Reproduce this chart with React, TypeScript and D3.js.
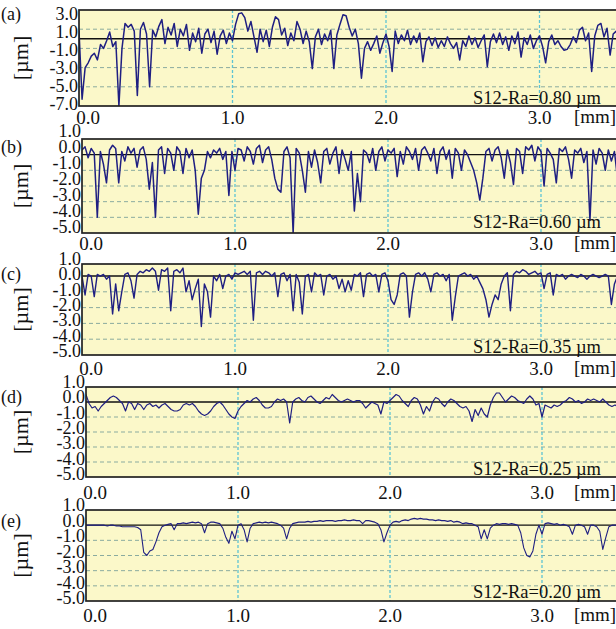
import React from 'react';
import * as d3 from 'd3';

// ---------- data ----------
const X_STEP = 0.02; // mm between samples
const panelLabels = ['(a)', '(b)', '(c)', '(d)', '(e)'];
const raLabels = ['S12-Ra=0.80 µm', 'S12-Ra=0.60 µm', 'S12-Ra=0.35 µm', 'S12-Ra=0.25 µm', 'S12-Ra=0.20 µm'];
const xTickValues = [0, 1, 2, 3];
const xTickLabels = ['0.0', '1.0', '2.0', '3.0'];
const yTicksA = [3, 1, -1, -3, -5, -7];
const yTicksOther = [1, 0, -1, -2, -3, -4, -5];

const profileA = [
  0.9, -6.3, -3.0, -2.5, -1.8, -1.5, -2.2, -0.6, -1.0, -0.2,
  0.7, -0.8, -0.3, -7.0, -1.0, 1.6, 1.2, 1.5, 0.8, -5.9,
  1.0, 1.7, 0.5, -5.0, 0.9, 0.2, 1.3, 2.0, -0.5, 1.2,
  0.4, 1.6, -0.8, 1.0, 0.3, 1.5, -1.2, 0.6, -0.3, 1.1,
  -1.5, 0.5, 1.0, -0.4, 0.8, -1.6, 0.3, 0.9, -0.5, 0.6,
  -0.2, 1.5, 2.6, 2.7, 2.2, 0.8, 1.8, 0.2, -1.4, 1.0,
  -0.3, 0.9, -0.8, 1.2, 2.3, 2.0, 0.4, 1.1, -0.7, 0.6,
  -0.2, 1.8, 1.0, -0.5, 0.8, -0.3, -3.1, 0.2, 1.0, -0.6,
  0.5, -0.2, 0.9, -3.1, 0.4, 1.5, 2.5, 2.4, 1.2, 0.3,
  1.0, -0.5, -4.1, -1.0, -0.3, -1.2, -0.5, 0.3, -1.5, -0.4,
  0.5, -0.8, -3.4, 0.8, -0.5, 0.4, -0.2, 0.9, -0.6, 0.3,
  -0.4, 0.6, -2.4, -0.3, 0.2, -0.7, 0.1, -0.9, -0.2, -0.8,
  0.2, -0.5, -1.0, -0.4, -2.2, -0.2, -0.8, 0.3, -0.6, 0.1,
  -0.9, -0.2, 0.4, -2.9, -0.3, 0.5, -0.4, 0.6, -0.6, 0.2,
  -1.2, 0.3, -0.5, 0.7, -1.9, 0.1, -0.6, 0.4, -1.0, -0.2,
  0.3, -0.8, -2.5, -0.3, 0.4, -0.6, -0.2, -0.8, -1.2, -1.1,
  -0.6, 0.2, -0.4, 0.9, 1.2, -0.2, 0.6, -3.4, 0.3, 1.4,
  1.6, 0.2, 1.1, -1.7, 0.5, 0.8,
];

const profileB = [
  0.3, 0.5, -0.2, 0.4, 0.1, -4.0, 0.2, -0.6, -1.8, 0.3,
  0.6, 0.4, -1.8, 0.2, -0.4, 0.5, 0.1, 0.4, -0.8, 0.3,
  0.5, -0.3, -2.2, -0.5, -4.0, 0.3, 0.5, -1.2, 0.4, 0.1,
  -1.0, 0.5, 0.2, -1.2, 0.4, -0.2, 0.3, -1.0, -3.8, -1.5,
  -1.0, 0.2, -0.2, 0.3, 0.1, 0.4, -0.3, 0.2, -2.6, 0.2,
  -1.0, 0.4, 0.3, -0.4, 0.5, 0.2, -0.6, 0.4, 0.6, -0.5,
  0.3, 0.5, -0.3, -1.5, -2.2, -2.4, 0.2, 0.5, -0.2, -5.0,
  0.4, 0.1, -1.0, -2.4, 0.2, -0.8, 0.3, -0.5, -1.8, 0.2,
  0.4, -0.6, 0.1, 0.5, -1.2, 0.3, -0.3, -1.0, 0.2, -3.6,
  -1.2, -3.0, 0.3, 0.1, -0.5, 0.4, -1.0, 0.2, 0.5, -0.4,
  0.3, 0.1, 0.4, -1.4, 0.2, -0.6, 0.5, 0.2, -0.3, 0.4,
  -1.0, 0.3, 0.5, 0.1, -0.4, 0.4, -1.2, 0.2, 0.5, -0.3,
  0.3, -1.5, 0.4, 0.1, -1.0, 0.3, 0.0, -0.5, -1.0, -1.8,
  -2.9, -1.5, 0.2, 0.4, -0.4, 0.3, 0.5, -0.2, -1.5, 0.3,
  -0.5, -1.9, 0.4, 0.2, -1.2, 0.5, 0.3, 0.6, -0.4, 0.5,
  0.2, -2.0, 0.4, 0.1, -0.3, -1.8, 0.4, 0.2, 0.5, -0.3,
  -1.5, 0.3, 0.1, 0.4, -0.5, 0.2, -4.2, 0.3, -0.6, 0.4,
  0.1, -1.0, 0.3, -0.4, 0.2, -1.5,
];

const profileC = [
  0.0, -1.2, 0.1, 0.0, -1.3, 0.1, 0.0, 0.1, -0.2, 0.0,
  -2.4, -0.5, -2.2, -1.0, 0.1, 0.2, -0.3, -1.4, 0.1, 0.3,
  0.2, 0.4, 0.3, 0.5, 0.3, -0.9, 0.4, 0.3, 0.5, -2.2,
  0.3, 0.4, 0.2, 0.5, -1.0, -0.3, -1.5, -0.8, -0.2, -3.2,
  -0.5, -1.0, -2.6, 0.0, -0.3, 0.1, -0.8, 0.0, 0.1, -0.2,
  0.2, 0.1, 0.2, 0.3, 0.1, 0.3, -2.8, 0.2, 0.3, 0.1,
  0.3, 0.2, 0.0, 0.2, -1.3, 0.1, 0.2, -0.3, 0.1, -2.2,
  0.1, -0.4, -2.4, 0.0, 0.1, -1.0, 0.2, 0.0, 0.1, -1.2,
  0.0, 0.1, -0.2, 0.0, -0.8, -0.2, -1.0, -0.3, -0.9, 0.1,
  0.0, 0.2, -1.3, 0.1, 0.2, 0.0, 0.1, -1.0, 0.1, 0.2,
  -0.3, -1.5, -1.8, -1.2, 0.1, 0.2, 0.0, -2.6, -1.0, 0.1,
  0.2, 0.0, 0.2, -0.2, -1.0, 0.1, 0.2, 0.0, 0.1, -0.3,
  0.1, -2.8, -1.3, 0.0, 0.1, 0.2, 0.0, 0.1, -0.2, 0.0,
  -0.4, -0.8, -1.5, -2.6, -1.8, -1.2, -1.5, -0.5, 0.0, 0.2,
  -2.2, 0.1, 0.3, 0.2, 0.4, 0.3, 0.1, 0.2, 0.3, 0.1,
  0.2, -0.8, 0.1, 0.2, -1.2, 0.1, 0.0, 0.1, -0.2, 0.0,
  0.1, 0.0, -0.1, 0.1, 0.0, -0.2, 0.0, 0.1, 0.0, -0.1,
  0.0, 0.1, 0.0, -1.8, -0.5, 0.0,
];

const profileD = [
  0.5, -0.1, -0.4, -0.3, -0.6, -0.3, -0.1, 0.1, 0.3, 0.4,
  0.3, 0.1, -0.1, -0.6, 0.0, -0.1, -0.5, -0.1, -0.2, -0.5,
  -0.2, -0.1, -0.3, -0.2, -0.4, -0.2, -0.1, -0.3, -0.5, -0.6,
  -0.6, -0.5, -0.2, -0.1, -0.2, -0.1, -0.3, -0.6, -0.8, -0.9,
  -0.8, -0.6, -0.3, -0.1, 0.0, -0.2, -0.5, -0.8, -1.0, -1.1,
  -0.6, -0.3, -0.1, 0.1, 0.0, 0.2, 0.3, 0.1, -0.2, -0.4,
  -0.4, -0.3, 0.0, 0.2, 0.1, 0.2, 0.0, -1.4, 0.0, 0.2,
  0.3, 0.1, 0.0, 0.3, 0.4, 0.2, 0.0, -0.1, 0.1, 0.3,
  0.2, 0.5, 0.3, 0.1, 0.0, 0.1, 0.2, 0.1, 0.0, 0.1,
  0.1, -0.1, -0.4, -0.2, 0.0, -0.1, -0.2, -0.8, 0.0, -0.1,
  0.1, 0.3, 0.5, 0.4, 0.1, -0.1, -0.3, 0.1, 0.3, 0.2,
  -0.2, -0.8, -0.3, -0.6, 0.0, 0.3, 0.2, -0.1, -0.3, 0.0,
  0.2, 0.1, -0.1, -0.3, -0.4, -0.3, -0.6, -1.3, -0.5, -0.9,
  -0.4, -0.8, -1.0, -0.2, 0.3, 0.6, 0.6, 0.3, 0.0, 0.2,
  0.4, 0.3, 0.1, 0.0, -0.1, 0.2, 0.4, 0.2, -0.2, -0.1,
  -1.0, -0.2, -0.3, -0.4, -0.2, -0.3, -0.2, 0.0, 0.1, 0.3,
  0.2, 0.0, 0.1, -0.1, 0.0, 0.2, 0.1, 0.2, 0.1, 0.0,
  0.2, 0.0, -0.2, -0.3, -0.2, -0.3,
];

const profileE = [
  0.0, 0.0, 0.0, 0.0, 0.0, 0.0, 0.0, -0.05, 0.0, 0.0,
  -0.05, -0.05, -0.1, -0.1, -0.1, -0.1, -0.1, -0.15, -0.3, -1.8,
  -2.0, -1.7, -1.6, -1.1, -0.5, -0.1, 0.0, 0.05, 0.1, -0.3,
  0.1, 0.1, 0.15, 0.1, 0.15, 0.2, 0.15, 0.2, 0.1, -0.5,
  0.1, 0.2, 0.2, 0.15, 0.1, -0.2, -0.8, -1.2, -0.4, -0.9,
  0.0, 0.1, -0.3, -1.1, -0.2, 0.1, 0.15, 0.2, 0.15, 0.2,
  0.15, 0.2, 0.15, 0.1, 0.0, -0.2, -0.9, -0.2, 0.1, 0.15,
  0.2, 0.2, 0.2, 0.25, 0.2, 0.25, 0.25, 0.3, 0.25, 0.3,
  0.3, 0.3, 0.25, 0.3, 0.3, 0.35, 0.3, 0.3, 0.35, 0.3,
  0.3, 0.1, 0.3, 0.3, 0.25, 0.2, 0.1, -0.3, -1.1, -0.5,
  0.0, 0.2, 0.25, 0.2, 0.3, 0.35, 0.3, 0.4, 0.45, 0.4,
  0.45, 0.4, 0.4, 0.35, 0.35, 0.3, 0.35, 0.3, 0.3, 0.25,
  0.3, 0.2, 0.25, 0.2, 0.1, 0.15, 0.1, 0.1, 0.0, -0.1,
  -0.9, -0.3, -0.9, -0.2, 0.0, 0.1, 0.05, 0.1, 0.1, 0.05,
  0.1, 0.05, 0.0, -0.5, -1.5, -2.0, -2.1, -1.7, -0.6, 0.0,
  -0.6, 0.1, 0.15, 0.1, 0.05, 0.1, 0.0, 0.05, 0.0, -0.1,
  -0.6, 0.0, 0.05, 0.0, -0.1, -0.6, 0.0, 0.0, -0.1, -0.4,
  -1.6, -0.8, -0.1, 0.0, 0.0, 0.0,
];

const profiles = [profileA, profileB, profileC, profileD, profileE];

// ---------- layout ----------
const W = 616;
const H = 629;
const panels = [
  { left: 79, top: 10, bottom: 106, yMin: -7, yMax: 3, pxPerMm: 153.5, ticks: yTicksA, labTop: 14, labBot: 104, xLabY: 117, raY: 98, lw: 1.5 },
  { left: 82, top: 139, bottom: 233, yMin: -5, yMax: 1, pxPerMm: 153, ticks: yTicksOther, labTop: 131, labBot: 227, xLabY: 243, raY: 222, lw: 1.5 },
  { left: 82, top: 264, bottom: 355, yMin: -5, yMax: 0.76, pxPerMm: 153, ticks: yTicksOther, labTop: 259, labBot: 351, xLabY: 368, raY: 347, lw: 1.4 },
  { left: 86, top: 387, bottom: 477, yMin: -5, yMax: 1, pxPerMm: 152, ticks: yTicksOther, labTop: 382, labBot: 474, xLabY: 492, raY: 469, lw: 1.2 },
  { left: 86, top: 510, bottom: 601, yMin: -5, yMax: 1, pxPerMm: 152, ticks: yTicksOther, labTop: 505, labBot: 598, xLabY: 615, raY: 592, lw: 1.1 },
];

const txt: React.CSSProperties = { fontFamily: '"Liberation Serif"' };

function Panel({ idx }: { idx: number }) {
  const p = panels[idx];
  const data = profiles[idx];
  const x = d3.scaleLinear().domain([0, 1]).range([p.left, p.left + p.pxPerMm]);
  const y = d3.scaleLinear().domain([p.yMin, p.yMax]).range([p.bottom, p.top]);
  const first = p.ticks[0];
  const last = p.ticks[p.ticks.length - 1];
  const labY = d3.scaleLinear().domain([last, first]).range([p.labBot, p.labTop]);
  const line = d3
    .line<number>()
    .x((_, i) => x(i * X_STEP))
    .y((d) => y(d));
  const right = W + 4;
  const clipId = `clip-${idx}`;
  const gridTicks = p.ticks.filter((t) => t !== 0 && t > p.yMin && t < p.yMax);
  return (
    <g>
      <defs>
        <clipPath id={clipId}>
          <rect x={p.left} y={p.top} width={right - p.left} height={p.bottom - p.top} />
        </clipPath>
      </defs>
      <rect x={p.left} y={p.top} width={right - p.left} height={p.bottom - p.top} fill="#fbf8c9" />
      {gridTicks.map((t) => (
        <line key={t} x1={p.left} x2={right} y1={y(t)} y2={y(t)} stroke="#8aab9f" strokeWidth={1} strokeDasharray="4,3" />
      ))}
      {xTickValues.slice(1).map((t) => (
        <line key={t} x1={x(t)} x2={x(t)} y1={p.top} y2={p.bottom} stroke="#5cc3d4" strokeWidth={1.3} strokeDasharray="3,2" />
      ))}
      <line x1={p.left} x2={right} y1={y(0)} y2={y(0)} stroke="#111" strokeWidth={1.4} />
      <path d={line(data) || ''} fill="none" stroke="#1f1f82" strokeWidth={p.lw} strokeLinejoin="round" clipPath={`url(#${clipId})`} />
      <rect x={p.left} y={p.top} width={right - p.left} height={p.bottom - p.top} fill="none" stroke="#222" strokeWidth={1.7} />
      {p.ticks.map((t) => (
        <text key={t} x={p.left - 1} y={labY(t)} textAnchor="end" dominantBaseline="central" style={txt} fontSize={18} fill="#111">
          {t.toFixed(1)}
        </text>
      ))}
      <text x={1} y={idx === 0 ? labY(first) : labY(p.ticks[1])} dominantBaseline="central" style={txt} fontSize={18} fill="#111">
        {panelLabels[idx]}
      </text>
      <text
        transform={`translate(${20},${(p.top + p.bottom) / 2}) rotate(-90)`}
        textAnchor="middle"
        dominantBaseline="central"
        style={txt}
        fontSize={22}
        fill="#111"
      >
        [µm]
      </text>
      {xTickValues.map((t, i) => (
        <text key={t} x={x(t) + (i === 0 ? 9 : 0)} y={p.xLabY} textAnchor="middle" dominantBaseline="central" style={txt} fontSize={19} fill="#111">
          {xTickLabels[i]}
        </text>
      ))}
      <text x={595} y={p.xLabY - 1} textAnchor="middle" dominantBaseline="central" style={txt} fontSize={19} fill="#111">
        [mm]
      </text>
      <text x={473} y={p.raY} dominantBaseline="central" style={txt} fontSize={18.5} fill="#111">
        {raLabels[idx]}
      </text>
    </g>
  );
}

export default function App() {
  return (
    <svg width={W} height={H} style={{ position: 'absolute', left: 0, top: 0, display: 'block', background: '#fff' }}>
      {panels.map((_, i) => (
        <Panel key={i} idx={i} />
      ))}
    </svg>
  );
}
